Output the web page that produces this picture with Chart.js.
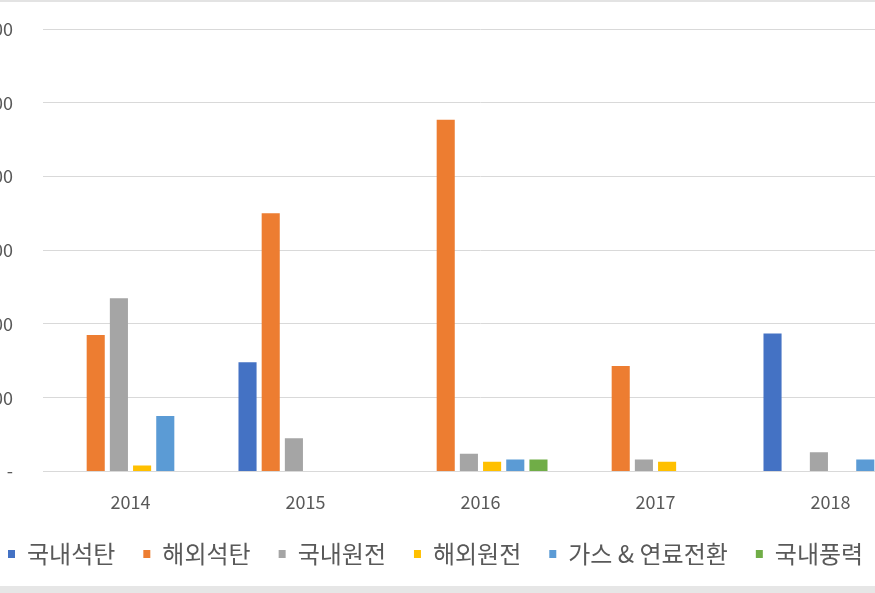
<!DOCTYPE html>
<html>
<head>
<meta charset="utf-8">
<script src="https://cdn.jsdelivr.net/npm/chart.js@4"></script>
<style>
  html, body { margin: 0; padding: 0; background: #fff; overflow: hidden; }
  #wrap { position: relative; width: 875px; height: 593px; overflow: hidden; background: #fff; }
  #topline { position: absolute; left: 0; top: 0; width: 875px; height: 2px; background: #e3e3e3; }
  #bottomband { position: absolute; left: 0; top: 586px; width: 875px; height: 7px; background: #e6e6e6; }
  #myChart { position: absolute; left: -40px; top: 0; }
</style>
</head>
<body>
<div id="wrap">
  <div id="topline"></div>
  <canvas id="myChart" width="980" height="595"></canvas>
  <div id="bottomband"></div>
</div>
<script>
// years on the x axis
const years = ['2014', '2015', '2016', '2017', '2018'];

// values
const domesticCoal = [null, 148, null, null, 187];   // 국내석탄
const overseasCoal = [185, 350, 477, 143, null];      // 해외석탄
const domesticNuclear = [235, 45, 24, 16, 26];        // 국내원전
const overseasNuclear = [8, null, 13, 13, null];      // 해외원전
const gasFuel = [75, null, 16, null, 16];             // 가스 & 연료전환
const domesticWind = [null, null, 16, null, null];    // 국내풍력

const yTicks = [0, 100, 200, 300, 400, 500, 600];

const seriesNames = ['국내석탄', '해외석탄', '국내원전', '해외원전', '가스 & 연료전환', '국내풍력'];
const seriesData = [domesticCoal, overseasCoal, domesticNuclear, overseasNuclear, gasFuel, domesticWind];
const seriesColors = ['#4472C4', '#ED7D31', '#A5A5A5', '#FFC000', '#5B9BD5', '#70AD47'];

const textColor = '#595959';
const fontFamily = '"Noto Sans CJK KR", "Noto Sans", sans-serif';

// pull the legend row a bit closer to the axis labels
const legendShift = {
  id: 'legendShift',
  afterLayout(chart) {
    chart.legend.top -= 19;
    chart.legend.bottom -= 19;
  }
};

const ctx = document.getElementById('myChart').getContext('2d');
const myChart = new Chart(ctx, {
  type: 'bar',
  data: {
    labels: years,
    datasets: seriesNames.map((name, i) => ({
      label: name,
      data: seriesData[i],
      backgroundColor: seriesColors[i],
      borderWidth: 0,
      categoryPercentage: 0.795,
      barPercentage: 0.78
    }))
  },
  options: {
    responsive: false,
    animation: false,
    layout: { padding: { left: 20, right: 22, top: 29, bottom: 0 } },
    plugins: {
      tooltip: { enabled: false },
      legend: {
        position: 'bottom',
        align: 'start',
        labels: {
          color: textColor,
          font: { family: fontFamily, size: 24 },
          boxWidth: 7,
          boxHeight: 8,
          padding: 28
        }
      }
    },
    scales: {
      x: {
        grid: { display: false, drawTicks: false },
        border: { display: true, color: '#d9d9d9', width: 1 },
        ticks: {
          color: textColor,
          font: { family: fontFamily, size: 18 },
          padding: 20,
          maxRotation: 0
        }
      },
      y: {
        min: 0,
        max: 600,
        afterFit: scale => { scale.width = 63; },
        afterBuildTicks: scale => { scale.ticks = yTicks.map(v => ({ value: v })); },
        grid: { color: '#d9d9d9', lineWidth: 1, drawTicks: true, tickLength: 28, tickColor: 'rgba(0,0,0,0)' },
        border: { display: false },
        ticks: {
          color: textColor,
          font: { family: fontFamily, size: 18 },
          padding: 2,
          callback: v => v === 0 ? '-' : v.toLocaleString()
        }
      }
    }
  },
  plugins: [legendShift]
});
</script>
</body>
</html>
